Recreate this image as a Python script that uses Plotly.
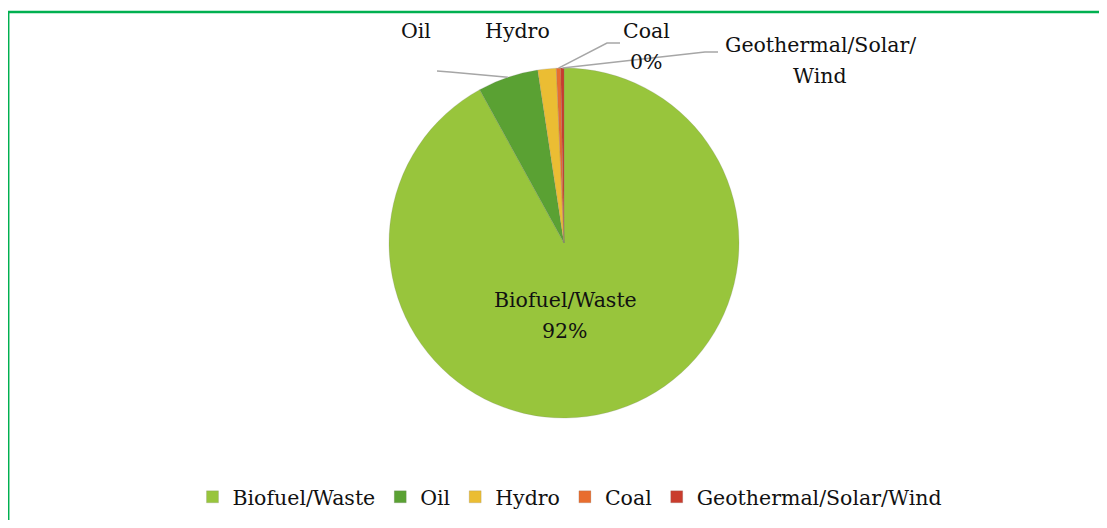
import math
import plotly.graph_objects as go

# energy mix shares (%)
labels = ["Biofuel/Waste", "Oil", "Hydro", "Coal", "Geothermal/Solar/Wind"]
values = [92.0, 5.6, 1.7, 0.4, 0.3]
colors = ["#98C53C", "#5AA133", "#EBBD33", "#E86D2E", "#C93C2D"]
show_pct = [True, False, False, True, False]
label_lines = [["Biofuel/Waste"], ["Oil"], ["Hydro"], ["Coal"], ["Geothermal/Solar/", "Wind"]]

# figure sized so the page (8px body margin) fits the window without scrollbars
W, H = 1091, 512
OFF = 8
cx, cy, R = 564, 243, 175  # pie centre / radius, screen px
FONT = "DejaVu Serif"
FS = 20.5


def px(x, y):
    # screen pixel -> paper coords
    return (x - OFF) / W, 1 - (y - OFF) / H


total = sum(values)
pct = [v / total * 100 for v in values]

dx0, dy0 = px(cx - R, cy + R)
dx1, dy1 = px(cx + R, cy - R)
fig = go.Figure(go.Pie(
    labels=labels, values=values, sort=False, direction="clockwise", rotation=0,
    marker=dict(colors=colors, line=dict(color="rgba(120,120,120,0.4)", width=0.5)),
    textinfo="none", hoverinfo="label+percent",
    domain=dict(x=[dx0, dx1], y=[dy0, dy1]),
))

# slice midpoints on the rim
mids = []
acc = 0
for p in pct:
    a = (acc + p / 2) / 100 * 2 * math.pi
    mids.append((cx + R * math.sin(a), cy - R * math.cos(a)))
    acc += p

# first-line positions of each label (screen px); 31 px line step
text_pos = [(565, 300), (416, 31), (518, 31), (646, 31), (820, 45)]
annotations = []
for lines, p, s, (x, y) in zip(label_lines, pct, show_pct, text_pos):
    rows = lines + ([f"{round(p)}%"] if s else [])
    for k, t in enumerate(rows):
        xx, yy = px(x, y + 31 * k)
        annotations.append(dict(x=xx, y=yy, xref="paper", yref="paper", text=t, showarrow=False,
                                xanchor="center", yanchor="middle",
                                font=dict(family=FONT, size=FS, color="#111111")))

# leader lines (rim point -> label side)
leader_ends = {1: [(450, 72), (437, 71)], 3: [(607, 43), (620, 43)], 4: [(705, 52), (718, 52)]}
shapes = []
for i, pts in leader_ends.items():
    path_pts = [mids[i]] + pts
    d = "M " + " L ".join(f"{px(x, y)[0]},{px(x, y)[1]}" for x, y in path_pts)
    shapes.append(dict(type="path", xref="paper", yref="paper", path=d,
                       line=dict(color="#A6A6A6", width=1.5)))

# green frame (right/bottom edges fall outside the window)
fx0, fy0 = px(8.2, 12)
shapes.append(dict(type="rect", xref="paper", yref="paper", x0=fx0, y0=-0.05, x1=1.05, y1=fy0,
                   line=dict(color="#00B050", width=2.5)))

fig.update_layout(
    width=W, height=H, margin=dict(l=0, r=0, t=0, b=0),
    paper_bgcolor="white", plot_bgcolor="white",
    font=dict(family=FONT, size=FS, color="#111111"),
    showlegend=True,
    legend=dict(orientation="h", x=px(570, 0)[0], xanchor="center", y=px(0, 497)[1], yanchor="middle",
                font=dict(family=FONT, size=FS, color="#111111"), itemwidth=30),
    annotations=annotations, shapes=shapes,
)

fig.write_html("out.html")
